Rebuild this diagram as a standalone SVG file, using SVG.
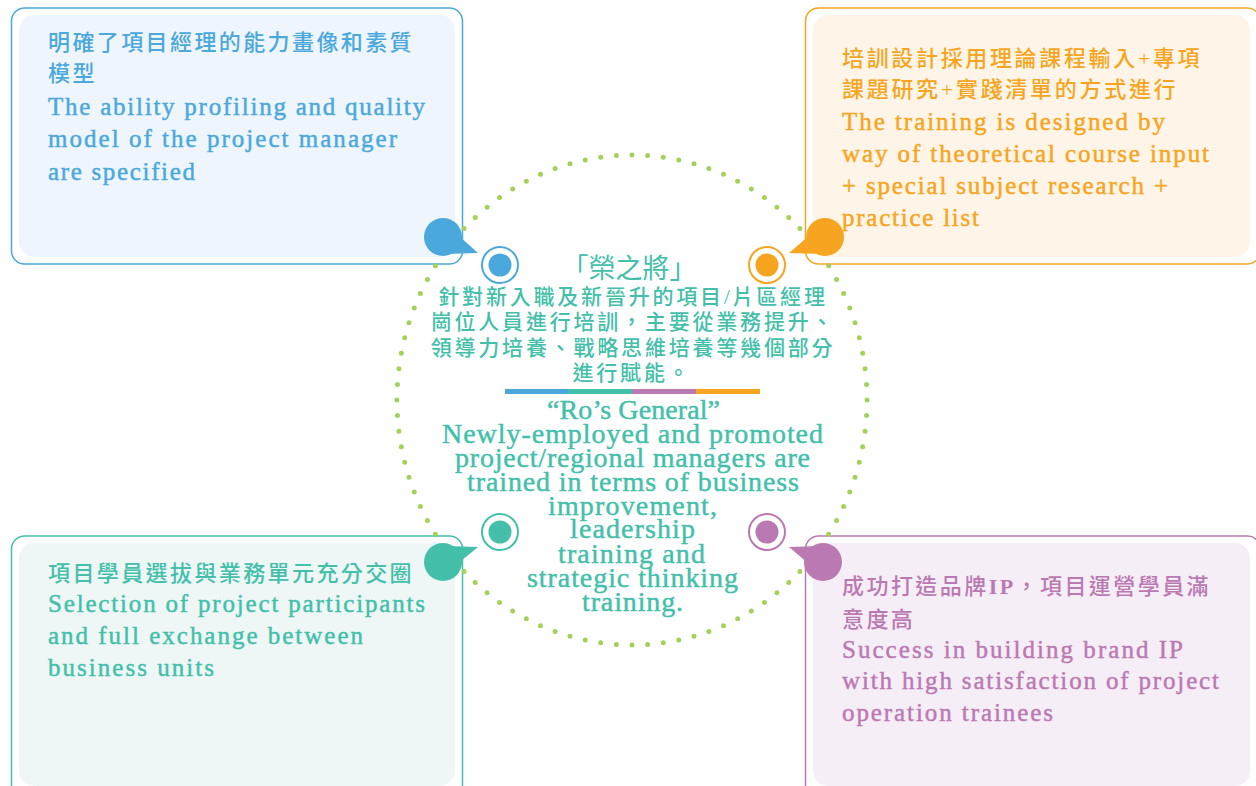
<svg xmlns="http://www.w3.org/2000/svg" width="1256" height="786" viewBox="0 0 1256 786">
<style>
.en{font-family:"Liberation Serif","Noto Sans CJK TC",serif;stroke-width:0.45px;}
.cn{font-family:"Liberation Serif","Noto Sans CJK TC",serif;font-weight:500;}
.bx-en{font-size:25px;}
.bx-cn{font-size:22px;letter-spacing:2.4px;}
.blue{fill:#4aa8dc;}
.orange{fill:#f7a521;}
.teal{fill:#44bfaa;}
.purple{fill:#bb79b3;}
text.en.blue{stroke:#4aa8dc;}
text.en.orange{stroke:#f7a521;}
text.en.teal{stroke:#44bfaa;}
text.en.purple{stroke:#bb79b3;}
.outer{fill:#ffffff;stroke-width:1.5;}
.ring{fill:#ffffff;stroke-width:2;}
.c-en{font-size:28px;}
.c-cn{font-size:21px;letter-spacing:2.8px;}
</style>

<!-- boxes -->
<g id="box-tl">
  <rect class="outer" x="11.5" y="8" width="451" height="256" rx="13" stroke="#4aa8dc"/>
  <rect x="19" y="15" width="436" height="242" rx="15" fill="#eef5fc"/>
  <text class="cn bx-cn blue" x="48" y="50">明確了項目經理的能力畫像和素質</text>
  <text class="cn bx-cn blue" x="48" y="81">模型</text>
  <text class="en bx-en blue" x="48" y="115" textLength="377" lengthAdjust="spacing">The ability profiling and quality</text>
  <text class="en bx-en blue" x="48" y="147" textLength="349" lengthAdjust="spacing">model of the project manager</text>
  <text class="en bx-en blue" x="48" y="180" textLength="147" lengthAdjust="spacing">are specified</text>
</g>

<g id="box-tr">
  <rect class="outer" x="805.5" y="8" width="455" height="256" rx="13" stroke="#f7a521"/>
  <rect x="813" y="15" width="437" height="242" rx="15" fill="#fef5e8"/>
  <text class="cn bx-cn orange" x="842" y="66" textLength="360" lengthAdjust="spacing">培訓設計採用理論課程輸入+專項</text>
  <text class="cn bx-cn orange" x="842" y="97" textLength="336" lengthAdjust="spacing">課題研究+實踐清單的方式進行</text>
  <text class="en bx-en orange" x="842" y="130" textLength="323" lengthAdjust="spacing">The training is designed by</text>
  <text class="en bx-en orange" x="842" y="162" textLength="367" lengthAdjust="spacing">way of theoretical course input</text>
  <text class="en bx-en orange" x="842" y="194" textLength="326" lengthAdjust="spacing">+ special subject research +</text>
  <text class="en bx-en orange" x="842" y="226" textLength="137" lengthAdjust="spacing">practice list</text>
</g>

<g id="box-bl">
  <rect class="outer" x="11.5" y="536" width="451" height="262" rx="13" stroke="#44bfaa"/>
  <rect x="19" y="543" width="436" height="243" rx="15" fill="#eef7f6"/>
  <text class="cn bx-cn teal" x="48" y="581">項目學員選拔與業務單元充分交圈</text>
  <text class="en bx-en teal" x="48" y="612" textLength="377" lengthAdjust="spacing">Selection of project participants</text>
  <text class="en bx-en teal" x="48" y="644" textLength="315" lengthAdjust="spacing">and full exchange between</text>
  <text class="en bx-en teal" x="48" y="676" textLength="166" lengthAdjust="spacing">business units</text>
</g>

<g id="box-br">
  <rect class="outer" x="805.5" y="536" width="455" height="262" rx="13" stroke="#bb79b3"/>
  <rect x="813" y="543" width="437" height="243" rx="15" fill="#f6eef6"/>
  <text class="cn bx-cn purple" x="842" y="594" textLength="369" lengthAdjust="spacing">成功打造品牌<tspan font-weight="bold">IP</tspan>，項目運營學員滿</text>
  <text class="cn bx-cn purple" x="842" y="627">意度高</text>
  <text class="en bx-en purple" x="842" y="658" textLength="341" lengthAdjust="spacing">Success in building brand IP</text>
  <text class="en bx-en purple" x="842" y="689" textLength="377" lengthAdjust="spacing">with high satisfaction of project</text>
  <text class="en bx-en purple" x="842" y="721" textLength="211" lengthAdjust="spacing">operation trainees</text>
</g>

<!-- connectors: dotted ring and speech bubbles -->
<g id="connectors">
  <ellipse cx="632" cy="400" rx="235" ry="245" fill="none" stroke="#a6d05a" stroke-width="5" stroke-linecap="round" pathLength="96" stroke-dasharray="0 1"/>
  <g id="bubble-tl" class="blue">
    <circle cx="443" cy="237" r="19"/>
    <polygon points="450,228 478,253 446,254"/>
  </g>
  <g id="bubble-tr" class="orange">
    <circle cx="825" cy="237" r="19"/>
    <polygon points="818,228 789,253 822,254"/>
  </g>
  <g id="bubble-bl" class="teal">
    <circle cx="443" cy="562" r="19"/>
    <polygon points="446,546 478,547 450,570"/>
  </g>
  <g id="bubble-br" class="purple">
    <circle cx="823" cy="562" r="19"/>
    <polygon points="820,546 789,547 816,570"/>
  </g>
</g>

<!-- ring markers -->
<g id="marker-tl">
  <circle class="ring" cx="500" cy="265" r="18" stroke="#4aa8dc"/>
  <circle class="blue" cx="500" cy="265" r="11.5"/>
</g>
<g id="marker-tr">
  <circle class="ring" cx="767" cy="265" r="18" stroke="#f7a521"/>
  <circle class="orange" cx="767" cy="265" r="11.5"/>
</g>
<g id="marker-bl">
  <circle class="ring" cx="500" cy="532" r="18" stroke="#44bfaa"/>
  <circle class="teal" cx="500" cy="532" r="11.5"/>
</g>
<g id="marker-br">
  <circle class="ring" cx="767" cy="532" r="18" stroke="#bb79b3"/>
  <circle class="purple" cx="767" cy="532" r="11.5"/>
</g>

<!-- center -->
<g id="center" text-anchor="middle">
  <text class="teal" x="629" y="278" font-size="27" font-family="'Liberation Serif','Noto Sans CJK TC',serif" font-weight="400">「榮之將」</text>
  <text class="cn c-cn teal" x="633" y="304">針對新入職及新晉升的項目/片區經理</text>
  <text class="cn c-cn teal" x="633" y="329">崗位人員進行培訓，主要從業務提升、</text>
  <text class="cn c-cn teal" x="633" y="355">領導力培養、戰略思維培養等幾個部分</text>
  <text class="cn c-cn teal" x="632" y="380">進行賦能。</text>
  <g id="color-bar">
    <rect x="505" y="389" width="64" height="5" fill="#4aa8dc"/>
    <rect x="568" y="389" width="64" height="5" fill="#44bfaa"/>
    <rect x="632" y="389" width="64" height="5" fill="#bb79b3"/>
    <rect x="696" y="389" width="64" height="5" fill="#f7a521"/>
  </g>
  <text class="en teal" x="633.5" y="419" font-size="28" textLength="173" lengthAdjust="spacing">“Ro’s General”</text>
  <text class="en c-en teal" x="632.5" y="443" textLength="381" lengthAdjust="spacing">Newly-employed and promoted</text>
  <text class="en c-en teal" x="632.5" y="467" textLength="355" lengthAdjust="spacing">project/regional managers are</text>
  <text class="en c-en teal" x="633" y="491" textLength="332" lengthAdjust="spacing">trained in terms of business</text>
  <text class="en c-en teal" x="632.5" y="515" textLength="169" lengthAdjust="spacing">improvement,</text>
  <text class="en c-en teal" x="632.5" y="538" textLength="125" lengthAdjust="spacing">leadership</text>
  <text class="en c-en teal" x="631.5" y="563" textLength="147" lengthAdjust="spacing">training and</text>
  <text class="en c-en teal" x="632.5" y="587" textLength="211" lengthAdjust="spacing">strategic thinking</text>
  <text class="en c-en teal" x="632.5" y="611" textLength="101" lengthAdjust="spacing">training.</text>
</g>
</svg>
